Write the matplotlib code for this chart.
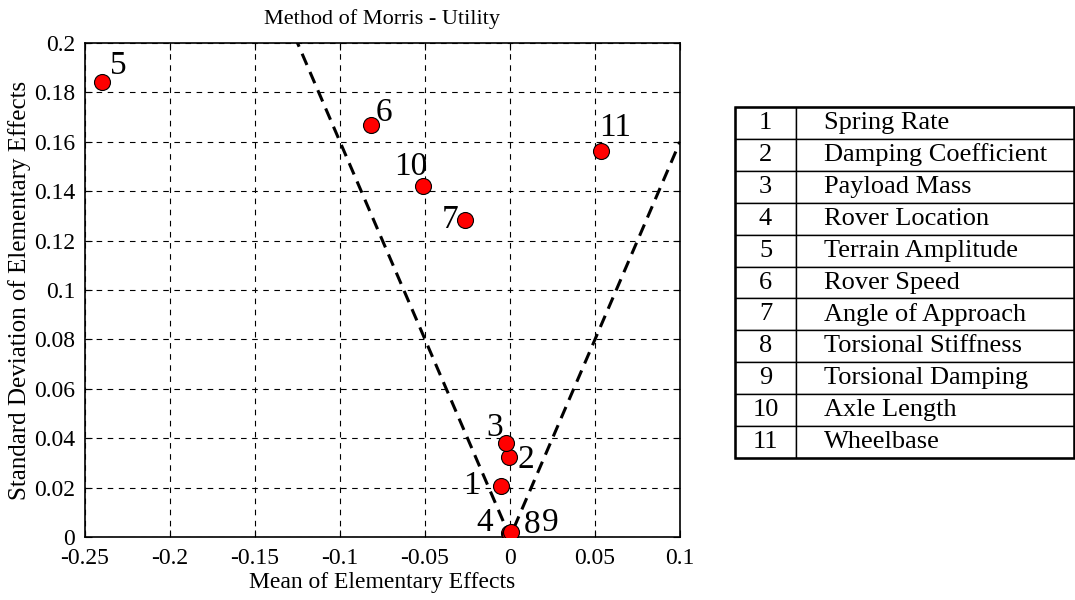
import matplotlib
matplotlib.use('Agg')
import matplotlib.pyplot as plt
import numpy as np

plt.rcParams['font.family'] = ['Liberation Serif', 'DejaVu Serif']

# elementary effects (mean, std) for each factor
factor_ids = ['1', '2', '3', '4', '5', '6', '7', '8', '9', '10', '11']
factor_names = ['Spring Rate', 'Damping Coefficient', 'Payload Mass', 'Rover Location',
                'Terrain Amplitude', 'Rover Speed', 'Angle of Approach', 'Torsional Stiffness',
                'Torsional Damping', 'Axle Length', 'Wheelbase']
mu = [-0.0053, -0.0004, -0.0023, -0.0008, -0.2402, -0.0818, -0.0265, 0.0, 0.0006, -0.0512, 0.0535]
sigma = [0.0206, 0.0323, 0.0379, 0.0017, 0.1842, 0.1668, 0.1283, 0.0012, 0.0020, 0.1421, 0.1563]

# label placement offsets (points), text vertically centred
lab_dx = [-15, 6, -2, -11, 6, 3.5, -5, 10, 22, 3.5, -1]
lab_dy = [0, -2, 11, 7, 12, 9, 0, 7, 7, 14, 17]
lab_ha = ['right', 'left', 'right', 'right', 'left', 'left', 'right', 'left', 'left', 'right', 'left']

# cone lines sigma = +-k*mu
k = 1.6
xline = np.array([-0.25, 0, 0.1])

fig = plt.figure(figsize=(10.75, 6.0), dpi=100)
ax = fig.add_axes([85/1075, 63/600, 595/1075, 494/600])

ax.plot(xline, np.abs(xline) * k, 'k--', lw=2.2, dashes=(4, 2.5), zorder=3)
ax.plot(mu, sigma, 'o', color='red', mec='black', mew=0.8, markersize=11.5, zorder=4)

for i in range(len(mu)):
    ax.annotate(factor_ids[i], (mu[i], sigma[i]), xytext=(lab_dx[i], lab_dy[i]),
                textcoords='offset points', ha=lab_ha[i], va='center',
                fontsize=24, zorder=5)

ax.set_xlim(-0.25, 0.1)
ax.set_ylim(0, 0.2)
ax.set_xticks(np.arange(-0.25, 0.1001, 0.05))
ax.set_xticklabels(['-0.25', '-0.2', '-0.15', '-0.1', '-0.05', '0', '0.05', '0.1'])
ax.set_yticks(np.arange(0, 0.2001, 0.02))
ax.set_yticklabels(['0', '0.02', '0.04', '0.06', '0.08', '0.1', '0.12', '0.14', '0.16', '0.18', '0.2'])
ax.tick_params(direction='in', length=5, labelsize=17, top=True, right=True)
ax.tick_params(axis='x', pad=8)
ax.tick_params(axis='y', pad=7)
ax.grid(True, color='black', linestyle=(0, (5, 5)), lw=0.8)
for s in ax.spines.values():
    s.set_linewidth(1.2)
ax.set_xlabel('Mean of Elementary Effects', fontsize=17, labelpad=2)
ax.set_ylabel('Standard Deviation of Elementary Effects', fontsize=18, labelpad=2)
ax.set_title('Method of Morris - Utility', fontsize=16, pad=14)

# factor table
tax = fig.add_axes([735/1075, 142/600, 339/1075, 351/600])
tax.axis('off')
rows = [[factor_ids[i], factor_names[i]] for i in range(len(factor_ids))]
tbl = tax.table(cellText=rows, bbox=[0, 0, 1, 1], colWidths=[61, 278])
tbl.auto_set_font_size(False)
for (r, c), cell in tbl.get_celld().items():
    cell.set_linewidth(1.0)
    cell.get_text().set_fontsize(19)
    if c == 0:
        cell._loc = 'center'
        cell.get_text().set_ha('center')
    else:
        cell._loc = 'left'
        cell.PAD = 0.1
        cell.get_text().set_ha('left')
tax.add_patch(plt.Rectangle((0, 0), 1, 1, fill=False, lw=1.8, transform=tax.transAxes, clip_on=False))

fig.savefig('out.png', dpi=100)
